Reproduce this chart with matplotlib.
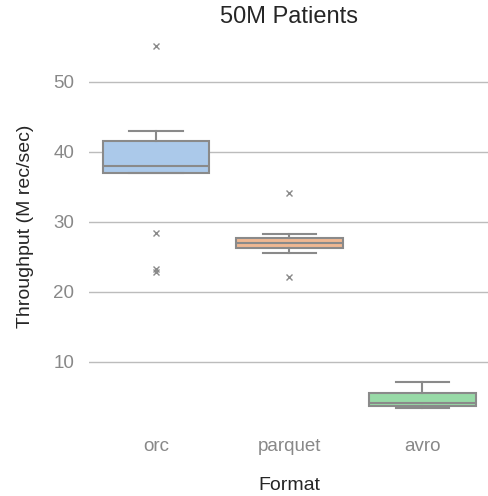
import matplotlib
matplotlib.use("Agg")
import matplotlib.pyplot as plt
import seaborn as sns

formats = ["orc", "parquet", "avro"]
whislo = [37.0, 25.6, 3.4]
q1 = [37.0, 26.2, 3.7]
med = [38.0, 27.0, 4.1]
q3 = [41.5, 27.7, 5.6]
whishi = [42.9, 28.2, 7.2]
fliers = [[55.1, 28.4, 23.3, 22.8], [34.1, 22.1], []]
yticks = [10, 20, 30, 40, 50]

palette = ["#a1c9f4", "#ffb482", "#8de5a1"]
colors = [sns.desaturate(c, 0.75) for c in palette]
edge = "#8a8a8a"

plt.rcParams['font.family'] = ['Liberation Sans', 'DejaVu Sans']

fig = plt.figure(figsize=(4.89, 4.96), dpi=100)
ax = fig.add_axes([0.183, 0.142, 0.817, 0.802])

stats = []
for i, f in enumerate(formats):
    stats.append(dict(label=f, whislo=whislo[i], q1=q1[i], med=med[i], q3=q3[i],
                      whishi=whishi[i], fliers=fliers[i]))

bp = ax.bxp(stats, positions=range(len(formats)), widths=0.8, patch_artist=True,
            boxprops=dict(edgecolor=edge, linewidth=1.5),
            medianprops=dict(color=edge, linewidth=1.5),
            whiskerprops=dict(color=edge, linewidth=1.5),
            capprops=dict(color=edge, linewidth=1.5),
            flierprops=dict(marker='x', markeredgecolor=edge, markersize=4, markeredgewidth=1))
for patch, c in zip(bp['boxes'], colors):
    patch.set_facecolor(c)

ax.set_xlim(-0.5, 2.5)
ax.set_ylim(0.92, 57.7)
ax.set_yticks(yticks)
ax.yaxis.grid(True, color="#bcbcbc", linewidth=1)
ax.set_axisbelow(True)
for s in ax.spines.values():
    s.set_visible(False)
ax.tick_params(axis='both', length=0, labelsize=13.5, colors="#888888")
ax.tick_params(axis='y', pad=11)
ax.tick_params(axis='x', pad=9)
ax.set_xticks(range(len(formats)))
ax.set_xticklabels(formats)
ax.set_xlabel("Format", fontsize=14, color="#262626", labelpad=16)
ax.set_ylabel("Throughput (M rec/sec)", fontsize=14, color="#262626", labelpad=14)
ax.set_title("50M Patients", fontsize=17, color="#262626", pad=0.5)

fig.savefig("out.png", dpi=100)
